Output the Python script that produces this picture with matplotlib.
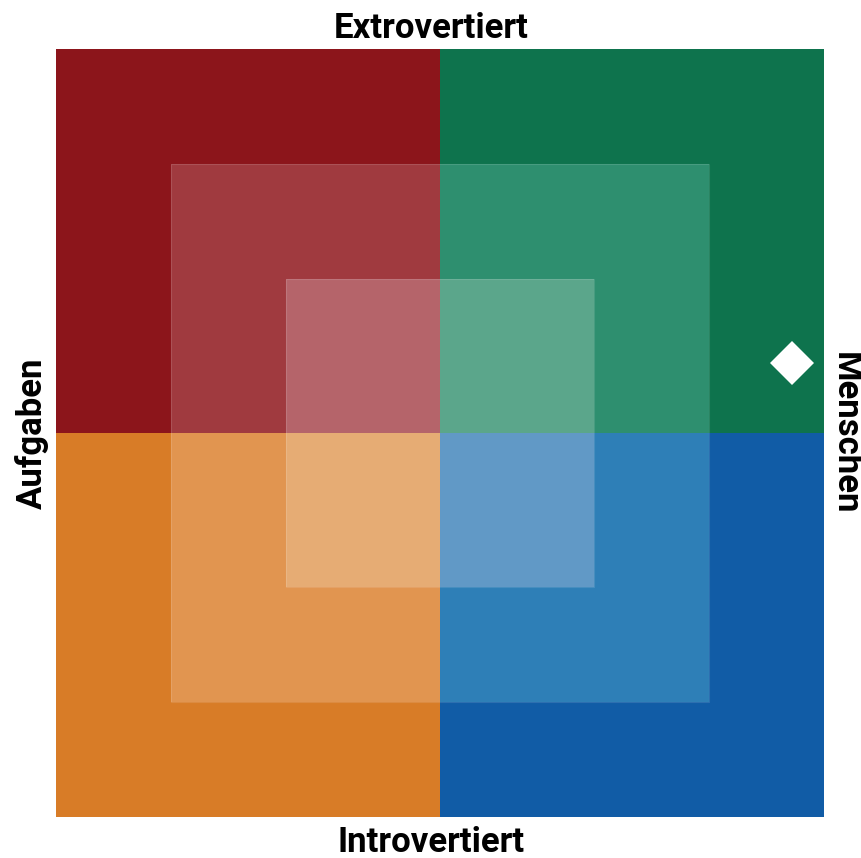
import matplotlib.pyplot as plt
from matplotlib.patches import Rectangle

# quadrants: (x sign, y sign)
quad_x = [-1, 1, -1, 1]
quad_y = [1, 1, -1, -1]
# colours per quadrant: outer, middle, inner
quad_colors = [
    ['#8c151b', '#a03a3f', '#b5646a'],   # red, top left
    ['#0e734d', '#2e8f6f', '#5ba68b'],   # green, top right
    ['#d87c27', '#e19550', '#e6ac74'],   # orange, bottom left
    ['#115ca6', '#2e7fb7', '#6199c6'],   # blue, bottom right
]

# half widths of the nested squares
levels = [1.0, 0.7, 0.4]

# marker position
point_x = [0.917]
point_y = [0.182]

label_top = 'Extrovertiert'
label_bottom = 'Introvertiert'
label_left = 'Aufgaben'
label_right = 'Menschen'

plt.rcParams['font.family'] = ['Roboto', 'DejaVu Sans']

fig = plt.figure(figsize=(8.62, 8.58), dpi=100)
ax = fig.add_axes([56/862, 41/858, 768/862, 768/858])
ax.set_xlim(-1, 1)
ax.set_ylim(-1, 1)
ax.axis('off')

for sx, sy, cols in zip(quad_x, quad_y, quad_colors):
    for lv, c in zip(levels, cols):
        x0 = min(0, sx * lv)
        y0 = min(0, sy * lv)
        ax.add_patch(Rectangle((x0, y0), lv, lv, facecolor=c, edgecolor='none'))

for lv in levels[1:]:
    ax.add_patch(Rectangle((-lv, -lv), 2*lv, 2*lv, facecolor='none',
                           edgecolor=(1, 1, 1, 0.12), linewidth=0.8))

ax.plot(point_x, point_y, 'D', color='white', markersize=22, markeredgewidth=0)

fs = 25
fig.text(0.5, 1 - 28/858, label_top, ha='center', va='center', fontsize=fs, fontweight='bold')
fig.text(0.5, 1 - 843/858, label_bottom, ha='center', va='center', fontsize=fs, fontweight='bold')
fig.text(32/862, 1 - 433/858, label_left, ha='center', va='center', rotation=90, fontsize=fs, fontweight='bold')
fig.text(845/862, 1 - 433/858, label_right, ha='center', va='center', rotation=270, fontsize=fs, fontweight='bold')

fig.savefig('out.png', dpi=100)
